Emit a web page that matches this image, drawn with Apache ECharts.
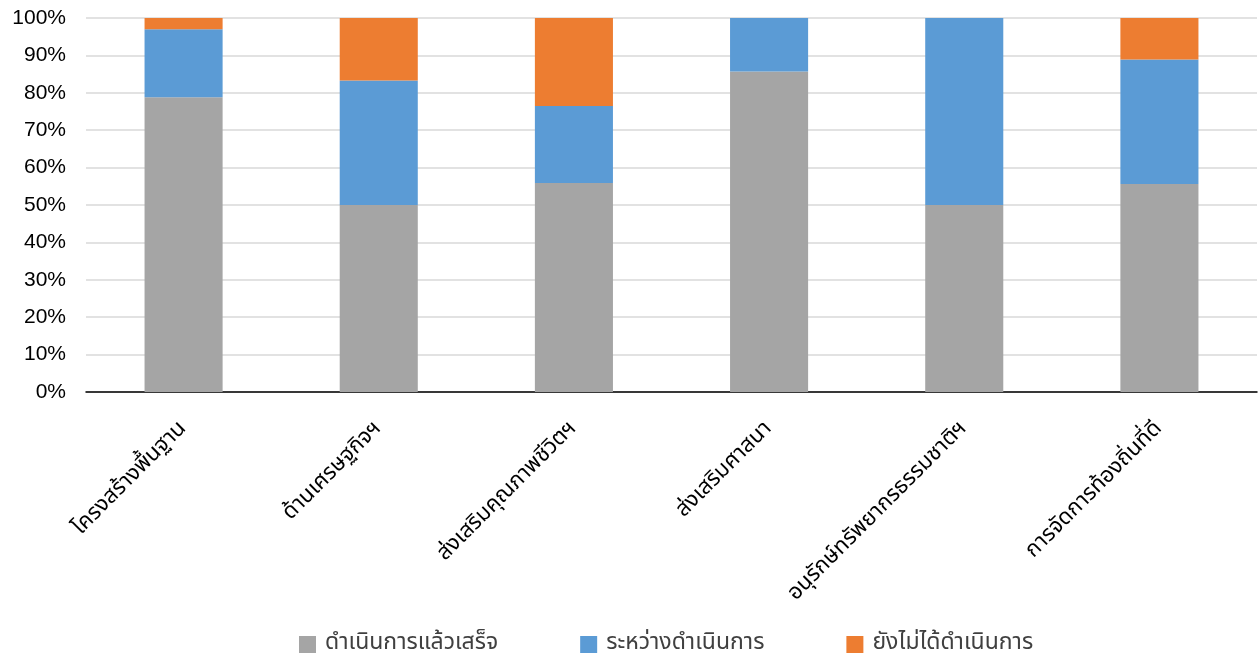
<!DOCTYPE html>
<html><head><meta charset="utf-8">
<script src="https://cdn.jsdelivr.net/npm/echarts@6/dist/echarts.min.js"></script>
<style>html,body{margin:0;padding:0;background:#fff}#c{width:1260px;height:657px}</style>
</head><body><div id="c"></div>
<script>
const categories = ['โครงสร้างพื้นฐาน','ด้านเศรษฐกิจฯ','ส่งเสริมคุณภาพชีวิตฯ','ส่งเสริมศาสนา','อนุรักษ์ทรัพยากรธรรมชาติฯ','การจัดการท้องถิ่นที่ดี'];
const seriesNames = ['ดำเนินการแล้วเสร็จ','ระหว่างดำเนินการ','ยังไม่ได้ดำเนินการ'];
const done = [78.8, 50.0, 55.9, 85.7, 50.0, 55.6];
const inProgress = [18.2, 33.3, 20.6, 14.3, 50.0, 33.3];
const notStarted = [3.0, 16.7, 23.5, 0, 0, 11.1];
const colors = ['#a5a5a5','#5b9bd5','#ed7d31'];
const font = '"Noto Sans Thai","Noto Sans","Liberation Sans",sans-serif';
const chart = echarts.init(document.getElementById('c'));
const mk = (name, data, i) => ({
  name, type:'bar', stack:'s', data, barWidth:'40%',
  itemStyle:{color:colors[i]}, emphasis:{disabled:true}
});
chart.setOption({
  animation:false,
  textStyle:{fontFamily:font},
  grid:{left:86,right:3,top:18,bottom:265,containLabel:false},
  legend:{bottom:-4,left:294,itemWidth:17,itemHeight:17,itemGap:82,icon:'rect',
    textStyle:{fontSize:23,color:'#404040',fontFamily:font,padding:[0,0,0,4]},data:seriesNames},
  xAxis:{type:'category',data:categories,
    axisLine:{lineStyle:{color:'#000',width:1.5}},axisTick:{show:false},
    axisLabel:{rotate:45,fontSize:22,color:'#000',margin:34,interval:0,fontFamily:font}},
  yAxis:{type:'value',min:0,max:100,interval:10,
    axisLine:{show:false},axisTick:{show:false},
    splitLine:{lineStyle:{color:'#d9d9d9',width:1.5}},
    axisLabel:{formatter:'{value}%',fontSize:21,color:'#000',margin:20,fontFamily:'"Liberation Sans",sans-serif'}},
  series:[mk(seriesNames[0],done,0),mk(seriesNames[1],inProgress,1),mk(seriesNames[2],notStarted,2)]
});
</script></body></html>
